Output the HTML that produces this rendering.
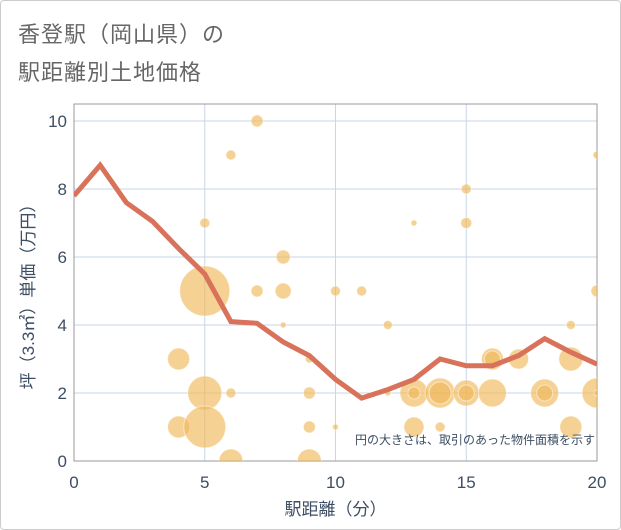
<!DOCTYPE html>
<html><head><meta charset="utf-8"><style>
body{margin:0;background:#fff;font-family:"Liberation Sans","Noto Sans CJK JP",sans-serif;}
#wrap{position:relative;width:621px;height:530px;box-sizing:border-box;border:1px solid #ccc;border-radius:4px;overflow:hidden;}
.title{position:absolute;left:17px;font-size:22px;color:#666;letter-spacing:1px;}
</style></head><body>
<div id="wrap">
<div class="title" style="top:16px">香登駅（岡山県）の</div>
<div class="title" style="top:54px">駅距離別土地価格</div>
<svg id="svg" width="621" height="530" style="position:absolute;left:0;top:0"><defs><clipPath id="pc"><rect x="73" y="103" width="523" height="357"/></clipPath></defs></svg>
</div>
<script>
const lineX=[0,1,2,3,4,5,6,7,8,9,10,11,12,13,14,15,16,17,18,19,20];
const lineY=[7.8,8.7,7.6,7.05,6.25,5.5,4.1,4.05,3.5,3.1,2.4,1.85,2.1,2.4,3.0,2.8,2.8,3.1,3.6,3.2,2.85];
const bubX=[7,6,5,8,5,7,8,8,10,11,12,13,15,15,20,20,19,4,5,6,9,9,4,5,9,10,6,9,12,13,13,14,14,15,15,16,16,16,17,18,18,19,20,20,13,14,19];
const bubY=[10,9,7,6,5,5,5,4,5,5,4,7,8,7,9,5,4,3,2,2,3,2,1,1,1,1,0,0,2,2,2,2,2,2,2,2,3,3,3,2,2,3,2,2,1,1,1];
const bubR=[6,5,5,7,25,6,8,3,5,5,4.5,3,5,5.5,4,6,4.5,11,17,5,4,6,11,21,6,3,12,12,3,14,6,15,11,13,8,14,11,8,10,14,8,12,15,3,10,5,11];
const xTicks=[0,5,10,15,20];
const yTicks=[0,2,4,6,8,10];
const L=73,R=596,T=103,B=460;
const sx=v=>L+(R-L)*v/20, sy=v=>460-34*v;
const svg=document.getElementById('svg');const NS='http://www.w3.org/2000/svg';
function mk(t,a,p){const e=document.createElementNS(NS,t);for(const k in a)e.setAttribute(k,a[k]);(p||svg).appendChild(e);return e;}
xTicks.forEach(v=>{
 const g=mk('line',{x1:sx(v),x2:sx(v),y1:T,y2:B,stroke:'#c9d6e6','stroke-width':1});
 
 
 const t=mk('text',{x:sx(v),y:487,'text-anchor':'middle','font-size':17,fill:'#3d4d63'});t.textContent=v;
 
 
});
yTicks.forEach(v=>{
 const g=mk('line',{x1:L,x2:R,y1:sy(v),y2:sy(v),stroke:'#c9d6e6','stroke-width':1});
 
 
 const t=mk('text',{x:66,y:sy(v)+6,'text-anchor':'end','font-size':17,fill:'#3d4d63'});t.textContent=v;
 
 
});
const fr=mk('rect',{x:L,y:T,width:R-L,height:B-T,fill:'none',stroke:'#999','stroke-width':1});


const bg=mk('g',{'clip-path':'url(#pc)'});


bubX.forEach((x,i)=>{
 const c=mk('circle',{cx:sx(x),cy:sy(bubY[i]),r:bubR[i],fill:'rgba(240,184,90,0.65)',stroke:'rgba(255,255,255,0.5)','stroke-width':1},bg);
 
 
});
const pl=mk('polyline',{points:lineX.map((x,i)=>sx(x)+','+sy(lineY[i])).join(' '),fill:'none',stroke:'#d9725a','stroke-width':5,'stroke-linejoin':'miter','clip-path':'url(#pc)'});


const note=mk('text',{x:594,y:443,'text-anchor':'end','font-size':12,fill:'#3d4d63'});note.textContent='円の大きさは、取引のあった物件面積を示す';


const xt=mk('text',{x:sx(10),y:514,'text-anchor':'middle','font-size':17,fill:'#3d4d63'});xt.textContent='駅距離（分）';


const yt=mk('text',{x:0,y:0,'text-anchor':'middle','font-size':17,fill:'#3d4d63',transform:'translate(33,'+((T+B)/2+10)+') rotate(-90)'});yt.textContent='坪（3.3㎡）単価（万円）';


</script>
</body></html>
